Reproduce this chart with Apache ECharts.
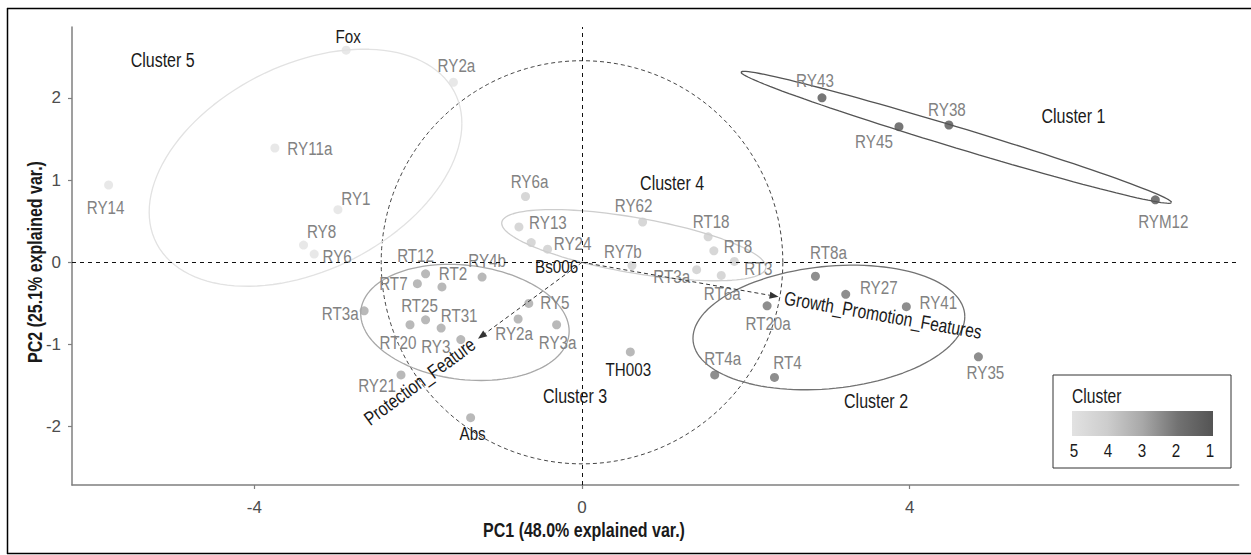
<!DOCTYPE html>
<html><head><meta charset="utf-8">
<script src="https://cdn.jsdelivr.net/npm/echarts@6/dist/echarts.min.js"></script>
<style>html,body{margin:0;padding:0;background:#fff}#c{width:1251px;height:555px}</style>
</head><body><div id="c"></div>
<script>
// ---------- data ----------
const strains = ['Fox','RY2a','RY11a','RY14','RY1','RY8','RY6',
  'RY6a','RY13','','RY24','RY7b','RY62','RT18','RT8','RT3','RT3a','RT6a',
  'RT12','RT7','RT2','RY4b','RT3a','RT25','RT20','RT31','RY3','RY5','RY2a','RY3a','RY21','Abs','TH003',
  'RT8a','RY27','RY41','RT20a','RT4a','RT4','RY35',
  'RY43','RY45','RY38','RYM12',
  'Bs006'];
const pc1 = [-2.88,-1.57,-3.75,-5.78,-2.98,-3.40,-3.27,
  -0.69,-0.77,-0.62,-0.42,0.61,0.74,1.54,1.61,1.86,1.40,1.70,
  -1.91,-2.01,-1.71,-1.22,-2.66,-1.91,-2.10,-1.72,-1.48,-0.65,-0.78,-0.31,-2.21,-1.36,0.59,
  2.85,3.22,3.96,2.26,1.62,2.35,4.84,
  2.93,3.87,4.48,7.00,
  -0.31];
const pc2 = [2.58,2.19,1.39,0.94,0.64,0.21,0.10,
  0.80,0.43,0.24,0.16,-0.04,0.49,0.31,0.14,0.01,-0.09,-0.16,
  -0.14,-0.26,-0.30,-0.18,-0.59,-0.70,-0.76,-0.80,-0.94,-0.50,-0.69,-0.76,-1.37,-1.89,-1.09,
  -0.17,-0.39,-0.54,-0.53,-1.37,-1.40,-1.15,
  2.00,1.65,1.67,0.76,
  -0.05];
const clusterOf = [5,5,5,5,5,5,5,
  4,4,4,4,4,4,4,4,4,4,4,
  3,3,3,3,3,3,3,3,3,3,3,3,3,3,3,
  2,2,2,2,2,2,2,
  1,1,1,1,
  0];
const referenceStrains = ['Fox','Abs','TH003','Bs006'];
const loadingNames = ['Growth_Promotion_Features','Protection_Feature'];
const loadingPC1 = [2.40,-1.27];
const loadingPC2 = [-0.42,-0.93];
const clusterIds = [1,2,3,4,5];
const clusterLabelText = ['Cluster 1','Cluster 2','Cluster 3','Cluster 4','Cluster 5'];
const clusterLabelX = [6.00,3.59,-0.085,1.10,-5.12];
const clusterLabelY = [1.77,-1.69,-1.635,0.96,2.45];
const xTicks = [-4,0,4];
const yTicks = [-2,-1,0,1,2];
const legendTicks = [5,4,3,2,1];
const legendTitle = 'Cluster';
const xTitle = 'PC1 (48.0% explained var.)';
const yTitle = 'PC2 (25.1% explained var.)';
const ELLIPSE_PROB = 0.68, CIRCLE_PROB = 0.69;

// ---------- styles ----------
const FONT = "'Liberation Sans',Arial,sans-serif";
const NARROW = 0.8;
const CLUSTER_COLORS = {1:'#545454',2:'#727272',3:'#a8a8a8',4:'#cdcdcd',5:'#e2e2e2'};
const LABEL_GRAY = '#828282', INK = '#1a1a1a', AXIS_GRAY = '#7f7f7f';
const labelOffsets = [[2,-14],[3,-17],[35,0],[-3,22],[18,-11],[18,-14],[23,2],
  [4,-15],[29,-5],[0,0],[25,-6],[-9,-14],[-9,-17],[3,-15],[24,-4],[24,7],[-25,7],[1,18],
  [-10,-18],[-24,0],[11,-14],[5,-17],[-24,3],[-6,-14],[-12,18],[18,-13],[-25,7],[26,-1],[-4,14],[1,18],[-24,10],[2,16],[-2,17],
  [13,-24],[33,-7],[32,-4],[1,18],[8,-17],[13,-15],[7,16],
  [-7,-17],[-25,15],[-2,-16],[8,22],
  [0,0]];

// ---------- derived geometry ----------
function ellipseFor(c){
  const xs=[],ys=[];
  clusterOf.forEach((k,i)=>{ if(k===c){xs.push(pc1[i]);ys.push(pc2[i]);} });
  const n=xs.length, mx=xs.reduce((a,b)=>a+b,0)/n, my=ys.reduce((a,b)=>a+b,0)/n;
  let sxx=0,sxy=0,syy=0;
  for(let i=0;i<n;i++){const dx=xs[i]-mx,dy=ys[i]-my;sxx+=dx*dx;sxy+=dx*dy;syy+=dy*dy;}
  sxx/=n-1;sxy/=n-1;syy/=n-1;
  const r11=Math.sqrt(sxx), r12=sxy/r11, r22=Math.sqrt(Math.max(syy-r12*r12,0));
  const ed=Math.sqrt(-2*Math.log(1-ELLIPSE_PROB));
  const pts=[];
  for(let k=0;k<=120;k++){const t=2*Math.PI*k/120, c0=Math.cos(t), s0=Math.sin(t);
    pts.push([mx+ed*c0*r11, my+ed*(c0*r12+s0*r22)]);}
  return pts;
}
function circlePts(){
  const n=pc1.length;
  const mx2=pc1.reduce((a,b)=>a+b*b,0)/n, my2=pc2.reduce((a,b)=>a+b*b,0)/n;
  const r=Math.sqrt(-2*Math.log(1-CIRCLE_PROB))*Math.pow(mx2*my2,0.25);
  const pts=[];
  for(let k=0;k<=180;k++){const t=2*Math.PI*k/180; pts.push([r*Math.cos(t), r*Math.sin(t)]);}
  return pts;
}

const X_MIN=-6.227, X_MAX=8.018, Y_MIN=-2.709, Y_MAX=2.862;

const series=[];
// circle + zero lines
series.push({type:'line', data:circlePts(), showSymbol:false, silent:true, z:1,
  lineStyle:{color:'#444', width:1, type:[4,3]},
  markLine:{silent:true, symbol:['none','none'], label:{show:false},
    lineStyle:{color:'#111', width:1, type:[4,4]},
    data:[{xAxis:0},{yAxis:0}]}});
// ellipses
clusterIds.forEach(c=>{
  series.push({type:'line', data:ellipseFor(c), showSymbol:false, silent:true, z:2,
    lineStyle:{color:CLUSTER_COLORS[c], width:1.3}});
});
// points
clusterIds.forEach(c=>{
  const data=[];
  clusterOf.forEach((k,i)=>{ if(k===c) data.push({value:[pc1[i],pc2[i]], name:strains[i]}); });
  series.push({type:'scatter', data, symbolSize:9, z:3, silent:true,
    itemStyle:{color:CLUSTER_COLORS[c]}});
});
// point labels (narrow text)
series.push({type:'custom', z:4, silent:true,
  data: strains.map((s,i)=>[pc1[i],pc2[i],i]),
  renderItem:(params,api)=>{
    const i=api.value(2), p=api.coord([api.value(0),api.value(1)]), off=labelOffsets[i];
    const ref=referenceStrains.indexOf(strains[i])>=0;
    return {type:'text', x:p[0]+off[0], y:p[1]+off[1], scaleX:NARROW,
      style:{text:strains[i], align:'center', verticalAlign:'middle', fill:ref?INK:LABEL_GRAY, font:'19px '+FONT}};
  }});
// loading arrows
series.push({type:'custom', z:4, silent:true,
  data: loadingNames.map((n,i)=>[loadingPC1[i],loadingPC2[i]]),
  renderItem:(params,api)=>{
    const p0=api.coord([0,0]), p1=api.coord([api.value(0),api.value(1)]);
    const dx=p1[0]-p0[0], dy=p1[1]-p0[1], L=Math.hypot(dx,dy), ux=dx/L, uy=dy/L;
    const bx=p1[0]-ux*9, by=p1[1]-uy*9, nx=-uy, ny=ux;
    let rot=Math.atan2(-dy,dx), align='left';
    if(dx<0){rot+=Math.PI; align='right';}
    const name=loadingNames[params.dataIndex];
    return {type:'group', children:[
      {type:'line', shape:{x1:p0[0],y1:p0[1],x2:bx,y2:by}, style:{stroke:'#333',lineWidth:1,lineDash:[4,3]}},
      {type:'polygon', shape:{points:[[p1[0],p1[1]],[bx+nx*3.5,by+ny*3.5],[bx-nx*3.5,by-ny*3.5]]}, style:{fill:'#333'}},
      {type:'text', x:p1[0]+ux*6, y:p1[1]+uy*6, rotation:rot, scaleX:NARROW,
        style:{text:name, align, verticalAlign:'middle', fill:INK, font:'19.5px '+FONT}}
    ]};
  }});
// cluster labels
series.push({type:'custom', z:4, silent:true,
  data: clusterLabelText.map((t,i)=>[clusterLabelX[i],clusterLabelY[i]]),
  renderItem:(params,api)=>{
    const p=api.coord([api.value(0),api.value(1)]);
    return {type:'text', x:p[0], y:p[1], scaleX:NARROW,
      style:{text:clusterLabelText[params.dataIndex], align:'center', verticalAlign:'middle', fill:INK, font:'20px '+FONT}};
  }});

// legend (colour bar) + titles + frame
const LG={x:1053,y:375,w:178,h:93, bx:1072, by:411, bw:141, bh:25};
const stops=legendTicks.map((v,i)=>({offset:i/(legendTicks.length-1), color:CLUSTER_COLORS[v]}));
const graphic=[
  {type:'line', shape:{x1:7,y1:8.5,x2:1251,y2:8.5}, style:{stroke:'#000',lineWidth:1.5}},
  {type:'line', shape:{x1:7.5,y1:8,x2:7.5,y2:554}, style:{stroke:'#000',lineWidth:1.5}},
  {type:'line', shape:{x1:7,y1:553.5,x2:1251,y2:553.5}, style:{stroke:'#000',lineWidth:1.5}},
  {type:'text', x:584, y:530, scaleX:NARROW, style:{text:xTitle, fill:INK, font:'bold 20px '+FONT, align:'center', verticalAlign:'middle'}},
  {type:'text', x:35, y:262, rotation:Math.PI/2, scaleX:NARROW, style:{text:yTitle, fill:INK, font:'bold 20px '+FONT, align:'center', verticalAlign:'middle'}},
  {type:'rect', shape:{x:LG.x,y:LG.y,width:LG.w,height:LG.h}, style:{fill:'#fff',stroke:'#333',lineWidth:1}, z:10},
  {type:'text', x:LG.bx, y:396, z:11, scaleX:NARROW, style:{text:legendTitle, fill:INK, font:'19.5px '+FONT, verticalAlign:'middle'}},
  {type:'rect', z:11, shape:{x:LG.bx,y:LG.by,width:LG.bw,height:LG.bh},
    style:{fill:{type:'linear',x:0,y:0,x2:1,y2:0,colorStops:stops}}}
];
legendTicks.forEach((v,i)=>{
  graphic.push({type:'text', z:11, x:1074+i*34, y:450, scaleX:NARROW,
    style:{text:String(v), fill:INK, font:'19px '+FONT, align:'center', verticalAlign:'middle'}});
});

const axisCommon={type:'value', splitLine:{show:false},
  axisLine:{show:true,onZero:false,lineStyle:{color:AXIS_GRAY,width:1.5}}};
const chart=echarts.init(document.getElementById('c'),null,{renderer:'svg'});
chart.setOption({
  animation:false,
  grid:{left:72,right:12.3,top:27,bottom:70},
  xAxis:Object.assign({},axisCommon,{min:X_MIN,max:X_MAX,
    axisTick:{show:true,length:4,customValues:xTicks,lineStyle:{color:AXIS_GRAY,width:1.2}},
    axisLabel:{customValues:xTicks,color:'#4d4d4d',fontSize:17,fontFamily:FONT,margin:14}}),
  yAxis:Object.assign({},axisCommon,{min:Y_MIN,max:Y_MAX,
    axisTick:{show:true,length:4,customValues:yTicks,lineStyle:{color:AXIS_GRAY,width:1.2}},
    axisLabel:{customValues:yTicks,color:'#4d4d4d',fontSize:17,fontFamily:FONT,margin:11}}),
  series, graphic
});
</script></body></html>
